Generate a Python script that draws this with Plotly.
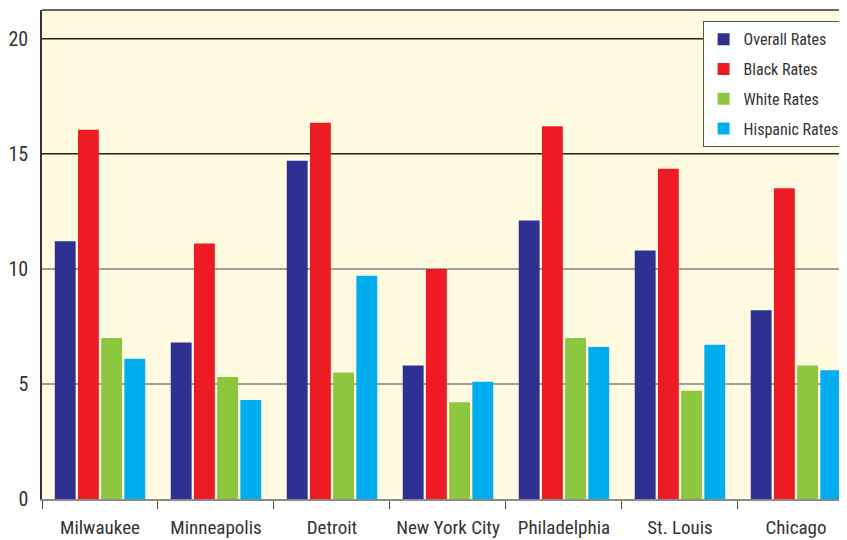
import plotly.graph_objects as go

# 各城市数据
cities = ["Milwaukee", "Minneapolis", "Detroit", "New York City",
          "Philadelphia", "St. Louis", "Chicago"]
overall_rates = [11.2, 6.8, 14.7, 5.8, 12.1, 10.8, 8.2]
black_rates = [16.05, 11.1, 16.35, 10.0, 16.2, 14.35, 13.5]
white_rates = [7.0, 5.3, 5.5, 4.2, 7.0, 4.7, 5.8]
hispanic_rates = [6.1, 4.3, 9.7, 5.1, 6.6, 6.7, 5.6]

y_ticks = [0, 5, 10, 15, 20]

series = [
    ("Overall Rates", overall_rates, "#2e3192"),
    ("Black Rates", black_rates, "#ed1c24"),
    ("White Rates", white_rates, "#8dc63f"),
    ("Hispanic Rates", hispanic_rates, "#00aeef"),
]

font_family = "Liberation Sans Narrow, Roboto Condensed, Arial Narrow, sans-serif"

fig = go.Figure()
for name, vals, color in series:
    fig.add_trace(go.Bar(x=cities, y=vals, name=name, legendgroup=name,
                         marker=dict(color=color, line=dict(width=0))))

# 网格线：上面两条深色，下面两条灰色
shapes = []
for v in y_ticks[1:]:
    shapes.append(dict(type="line", xref="paper", yref="y", x0=0, x1=1, y0=v, y1=v,
                       line=dict(color="#222222" if v >= 15 else "#808080", width=1.5),
                       layer="below"))
# 顶部边框
shapes.append(dict(type="line", xref="paper", yref="paper", x0=0, x1=1, y0=1, y1=1,
                   line=dict(color="#333333", width=1.5)))

# 页面 body 有 8px 边距，这里把图缩小 8px 来抵消
fig.update_layout(
    width=839, height=532,
    barmode="group", bargap=0.2, bargroupgap=0.1,
    plot_bgcolor="#fffbe0", paper_bgcolor="white",
    margin=dict(l=34, r=0, t=2, b=41),
    font=dict(family=font_family, color="#333333", size=19),
    shapes=shapes,
    legend=dict(x=0.997, y=0.977, xanchor="right", yanchor="top",
                bgcolor="white", bordercolor="#555555", borderwidth=1,
                font=dict(size=16, color="#333333"),
                tracegroupgap=6, itemwidth=30),
    xaxis=dict(range=[-0.5, 6.44], showgrid=False, tickson="boundaries",
               ticks="outside", ticklen=8, tickcolor="#444444",
               showline=True, linecolor="#8a8a8a", linewidth=2,
               ticklabelstandoff=10, tickfont=dict(size=19)),
    yaxis=dict(range=[0, 21.25], tickvals=y_ticks, showgrid=False, zeroline=False,
               showline=True, linecolor="#333333", linewidth=1.5,
               ticks="", ticklabelstandoff=8, tickfont=dict(size=20)),
)

fig.write_html("out.html")
